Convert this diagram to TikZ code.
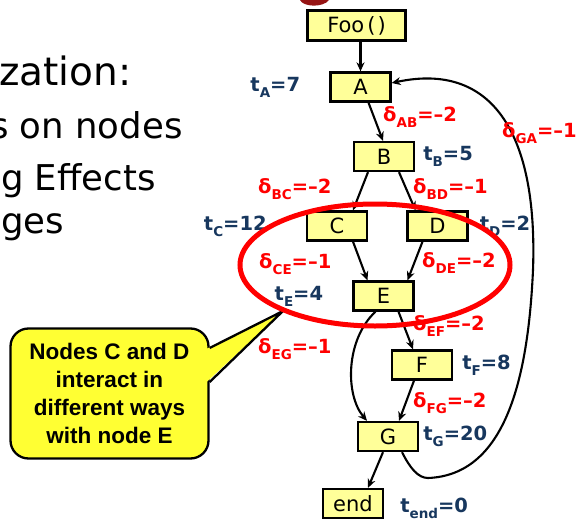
\documentclass[tikz,border=0pt]{standalone}
\usepackage{fontspec}
\setmainfont{DejaVu Sans}
\newfontfamily\notefont{Liberation Sans}
\usetikzlibrary{arrows.meta,positioning}

\definecolor{boxfill}{RGB}{255,255,153}
\definecolor{notefill}{RGB}{255,255,51}
\definecolor{tblue}{RGB}{23,55,94}
\definecolor{titlered}{RGB}{150,20,20}

\newcommand{\lsub}[1]{\raisebox{-6pt}{\fontsize{13.5}{13.5}\selectfont #1}}
\newcommand{\tval}[2]{t\lsub{#1}=#2}
\newcommand{\dval}[2]{δ\lsub{#1}=–#2}

\begin{document}
\begin{tikzpicture}[x=1pt, y=-1pt,
  box/.style={draw, line width=2.3pt, fill=boxfill, minimum width=60pt,
              minimum height=29pt, inner sep=0pt, font=\fontsize{21}{21}\selectfont},
  tlab/.style={inner sep=0pt, text=tblue, font=\bfseries\fontsize{19.5}{20}\selectfont},
  dlab/.style={inner sep=0pt, anchor=base west, text=red,
               font=\bfseries\fontsize{19.5}{20}\selectfont},
  slide/.style={inner sep=0pt, anchor=base west, font=\fontsize{35.5}{36}\selectfont},
  note/.style={draw, line width=2.3pt, fill=notefill, rounded corners=18pt,
               minimum width=198pt, minimum height=130pt, align=center, inner sep=0pt,
               font=\notefont\bfseries\fontsize{22.5}{27.7}\selectfont},
  flow/.style={->, line width=2.1pt},
  ring/.style={draw=red, line width=5pt},
  >={Stealth[length=9pt,width=8pt]}]
  \useasboundingbox (0,0) rectangle (578,519);

  % slide text behind the graph
  \node[slide] (l1) at (-1,85) {\fontsize{39}{40}\selectfont zation:};
  \node[slide] (l2) at (-10,138) {s on nodes};
  \node[slide] (l3) at (1,190) {g Effects};
  \node[slide] (l4) at (1,233) {ges};
  \fill[titlered] (300,0) .. controls (303,7) and (323,8) .. (329,0) -- cycle;

  % blocks
  \node[box, minimum width=98pt, minimum height=30pt] (foo) at (356.5,25.5) {Foo\kern3pt(\kern2pt)};
  \node[box] (a) at (360.5,87) {A};
  \node[box] (b) at (384,156.5) {B};
  \node[box] (c) at (337,226) {C};
  \node[box] (d) at (437.5,226) {D};
  \node[box] (e) at (383.5,296) {E};
  \node[box] (f) at (422,365) {F};
  \node[box] (g) at (388,436.5) {G};
  \node[box] (exit) at (353,503.5) {end};

  \draw[flow] ([xshift=4pt]foo.south) -- (a.north);
  \draw[flow] ([xshift=8pt]a.south) -- ([xshift=-1pt]b.north);
  \draw[flow] ([xshift=-16pt]b.south) -- ([xshift=16pt]c.north);
  \draw[flow] ([xshift=15pt]b.south) -- ([xshift=-22pt]d.north);
  \draw[flow] ([xshift=16pt]c.south) -- ([xshift=-16pt]e.north);
  \draw[flow] ([xshift=-15pt]d.south) -- ([xshift=24pt]e.north);
  \draw[flow] ([xshift=15pt]e.south) -- ([xshift=-9pt]f.north);
  \draw[flow] ([xshift=-8pt]e.south) .. controls +(-30,28) and +(-22,-26) .. ([xshift=-21pt]g.north);
  \draw[flow] ([xshift=-8pt]f.south) -- ([xshift=11pt]g.north);
  \draw[flow] ([xshift=-5pt]g.south) -- ([xshift=15pt]exit.north);
  \draw[flow] ([xshift=14pt]g.south) .. controls (410,468) and (418,478) .. (428,478)
    .. controls (505,475) and (528,380) .. (533,270)
    .. controls (538,130) and (490,62) .. ([yshift=4pt]a.east);

  % times
  \node[tlab, left=29pt of a] (ta) {\tval{A}{7}};
  \node[tlab, right=8pt of b] (tb) {\tval{B}{5}};
  \node[tlab, left=39pt of c] (tc) {\tval{C}{12}};
  \node[tlab, right=11pt of d] (td) {\tval{D}{2}};
  \node[tlab, left=29pt of e] (te) {\tval{E}{4}};
  \node[tlab, right=9pt of f] (tf) {\tval{F}{8}};
  \node[tlab, right=4pt of g] (tg) {\tval{G}{20}};
  \node[tlab, right=16pt of exit, yshift=-5pt] (tend) {\tval{end}{0}};

  % effects on edges
  \node[dlab] (dab) at (383,121) {\dval{AB}{2}};
  \node[dlab] (dga) at (502,137) {\dval{GA}{1}};
  \node[dlab] (dbc) at (258,193) {\dval{BC}{2}};
  \node[dlab] (dbd) at (413,193) {\dval{BD}{1}};
  \node[dlab] (dce) at (259,268) {\dval{CE}{1}};
  \node[dlab] (dde) at (422,267) {\dval{DE}{2}};
  \node[dlab] (def) at (413,330) {\dval{EF}{2}};
  \node[dlab] (deg) at (258,353) {\dval{EG}{1}};
  \node[dlab] (dfg) at (413,407) {\dval{FG}{2}};

  % callout
  \node[note] (note) at (109.5,393.5) {Nodes C and D\\interact in\\different ways\\with node E};
  \coordinate (tip) at (283,311);
  \fill[notefill] ([xshift=-2.5pt,yshift=45pt]note.east) -- (tip) -- ([xshift=-2.5pt,yshift=12pt]note.east) -- cycle;
  \draw[line width=2.3pt, line join=round] ([yshift=45.5pt]note.east) -- (tip) -- ([yshift=11.5pt]note.east);

  \draw[ring] (375,265) ellipse [x radius=135pt, y radius=61pt];
\end{tikzpicture}
\end{document}
